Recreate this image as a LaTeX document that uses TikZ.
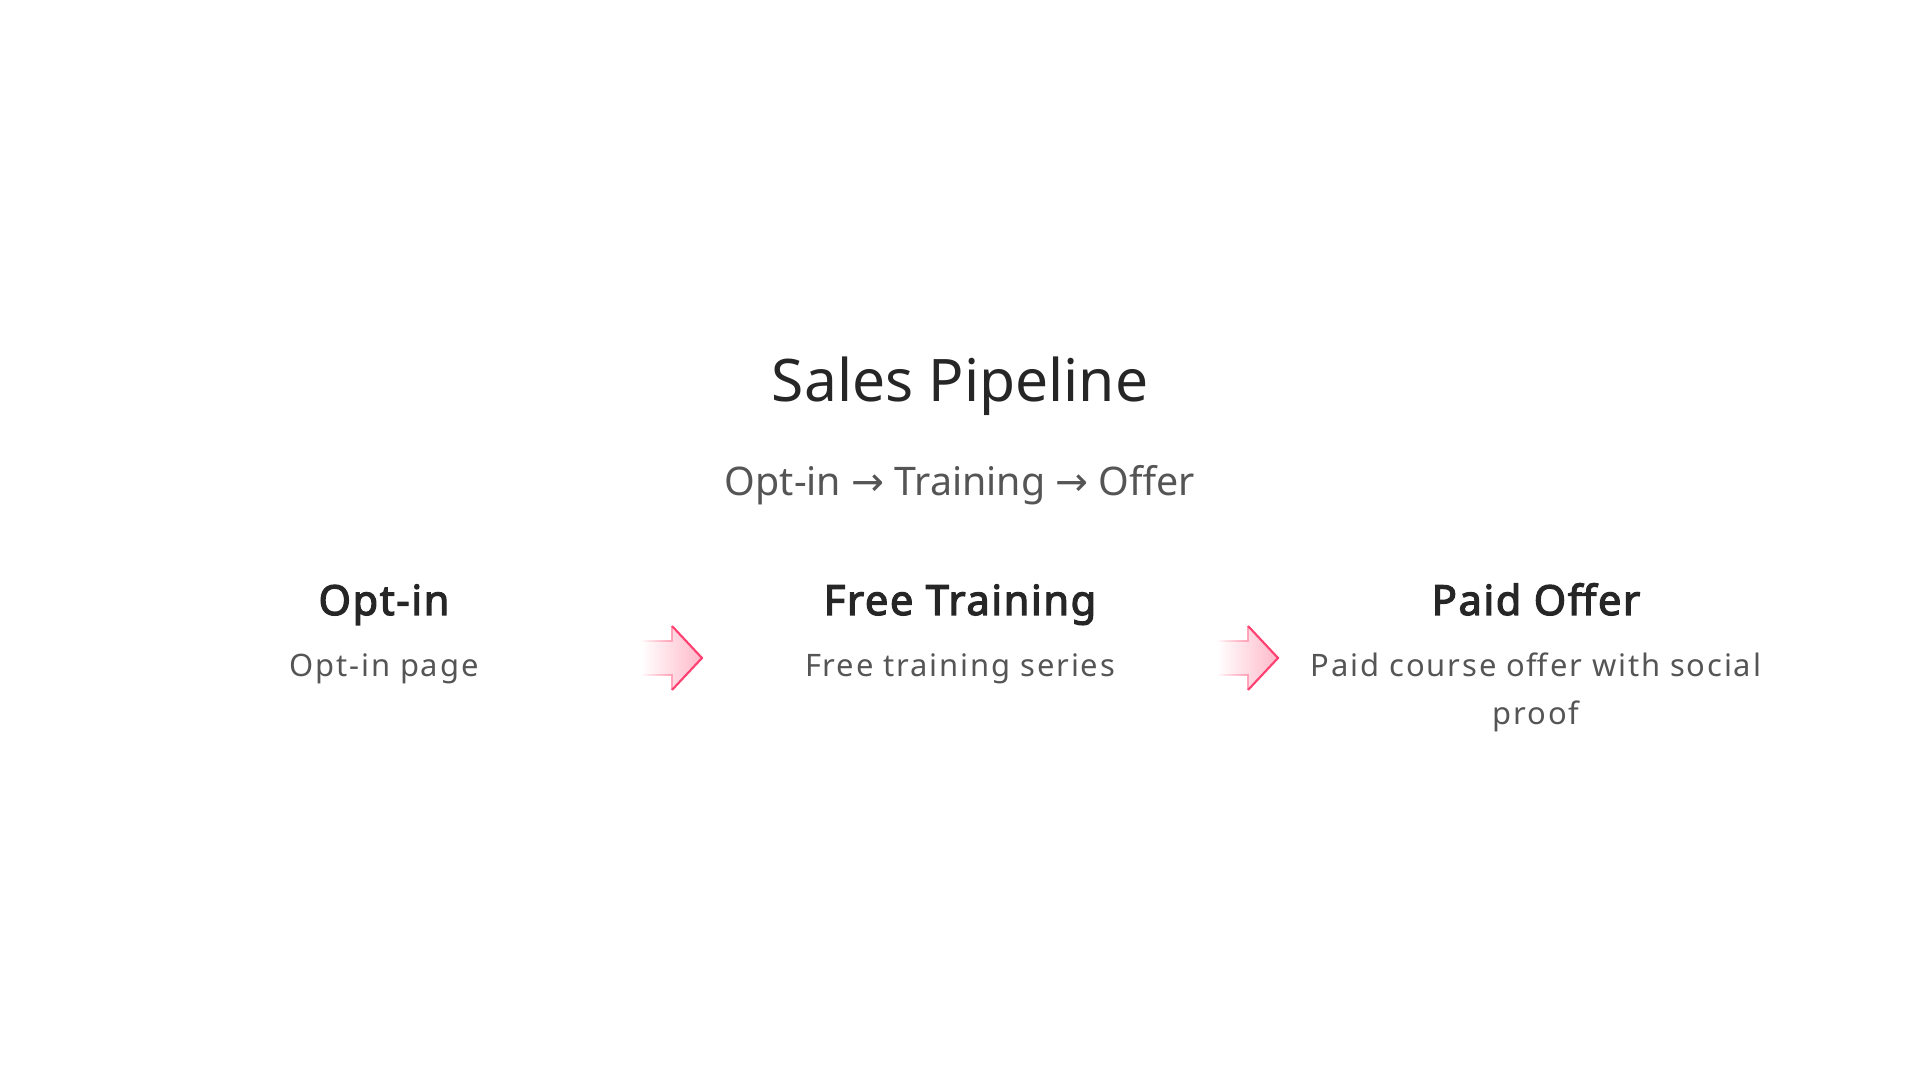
\documentclass[tikz,border=0pt]{standalone}
\usepackage{fontspec}
\setmainfont{Noto Sans}
\newfontfamily\spacedfont{Noto Sans}[LetterSpace=6]
\newfontfamily\headfont{Noto Sans}[LetterSpace=4,FakeBold=3]
\newfontfamily\symfont{DejaVu Sans}
\usetikzlibrary{calc,fadings}
\definecolor{inkdark}{HTML}{262626}
\definecolor{inkgrey}{HTML}{555555}
\definecolor{arrowpink}{RGB}{255,184,200}
\definecolor{arrowred}{RGB}{255,64,112}
\tikzfading[name=fadefromleft, left color=transparent!100, right color=transparent!0]
\newcommand{\flowto}{{\symfont\char"2192}}
\tikzset{
  titletext/.style={anchor=base,text=inkdark,font=\fontsize{16.7}{20}\selectfont},
  subtext/.style={anchor=base,text=inkgrey,font=\fontsize{11.2}{14}\selectfont},
  stagehead/.style={anchor=base,text=inkdark,font=\headfont\fontsize{11.8}{14}\selectfont},
  stagedesc/.style={anchor=base,text=inkgrey,align=center,font=\spacedfont\fontsize{8.8}{13.7}\selectfont},
}

\begin{document}
\begin{tikzpicture}
  % Configurable parameters
  \def\colgap{5.76}
  \def\shaft{0.17}
  \def\head{0.32}
  %
  % Canvas
  \useasboundingbox (0,0) rectangle (19.2,10.8);
  %
  % Title
  \node[titletext] (title) at (9.6,6.78) {Sales Pipeline};
  \node[subtext] (flow) at (9.6,5.84) {Opt-in \flowto{} Training \flowto{} Offer};
  %
  % Stages
  \node[stagehead] (optin) at (9.6-\colgap,4.65) {Opt-in};
  \node[stagehead] (training) at (9.6,4.65) {Free Training};
  \node[stagehead] (offer) at (9.6+\colgap,4.65) {Paid Offer};
  \node[stagedesc] (optindesc) at (9.6-\colgap,4.03) {Opt-in page};
  \node[stagedesc] (trainingdesc) at (9.6,4.03) {Free training series};
  \node[stagedesc] (offerdesc) at (9.6+\colgap,3.55) {Paid course offer with social\\proof};
  %
  % Arrows between stages
  \coordinate (step1) at ($(optin.base)!0.5!(training.base)+(0,-0.43)$);
  \coordinate (step2) at ($(training.base)!0.5!(offer.base)+(0,-0.43)$);
  \foreach \p in {step1,step2} {
    \shade[left color=white,right color=arrowpink]
      ($(\p)+(-0.31,\shaft)$) -- ($(\p)+(0,\shaft)$) -- ($(\p)+(0,\head)$)
      -- ($(\p)+(0.30,0)$) -- ($(\p)+(0,-\head)$) -- ($(\p)+(0,-\shaft)$)
      -- ($(\p)+(-0.31,-\shaft)$) -- cycle;
    \draw[arrowpink!80!arrowred,line width=0.5pt,path fading=fadefromleft]
      ($(\p)+(-0.31,\shaft)$) -- ($(\p)+(0,\shaft)$) -- ($(\p)+(0,\head)$)
      ($(\p)+(0,-\head)$) -- ($(\p)+(0,-\shaft)$) -- ($(\p)+(-0.31,-\shaft)$);
    \draw[arrowred,line width=0.6pt,line join=miter]
      ($(\p)+(0,\head)$) -- ($(\p)+(0.30,0)$) -- ($(\p)+(0,-\head)$);
  }
  %
\end{tikzpicture}
\end{document}
